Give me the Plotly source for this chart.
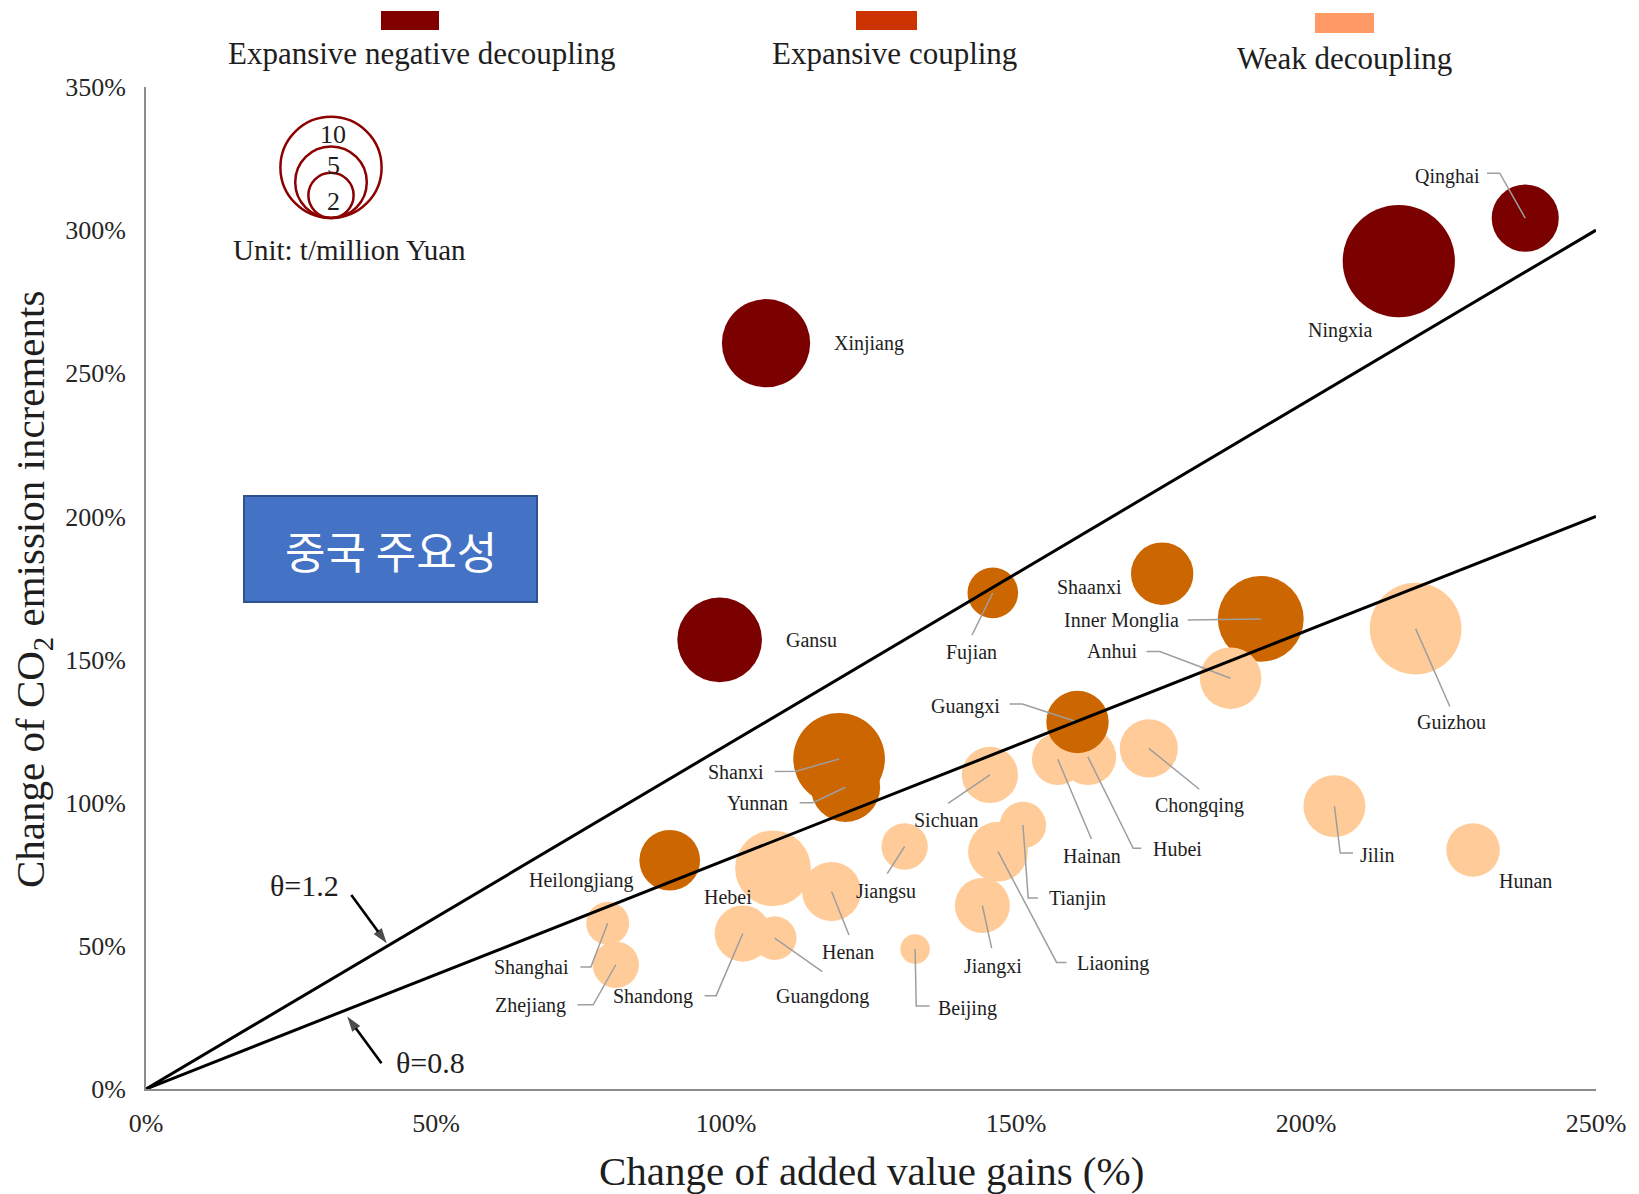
import plotly.graph_objects as go

# ---- provincial decoupling data -------------------------------------------
provinces = [
    "Qinghai", "Ningxia", "Xinjiang", "Gansu",
    "Guizhou", "Chongqing", "Hubei", "Hainan", "Sichuan", "Jilin", "Hunan",
    "Tianjin", "Liaoning", "Jiangxi", "Jiangsu", "Beijing", "Henan", "Hebei",
    "Shandong", "Guangdong", "Shanghai", "Zhejiang",
    "Fujian", "Shaanxi", "Inner Monglia", "Guangxi", "Shanxi", "Yunnan",
    "Heilongjiang",
    "Anhui",
]
# change of added value gains (%)
value_gain = [
    237.8, 216.0, 106.9, 98.9,
    218.9, 172.9, 162.4, 157.2, 145.5, 204.9, 228.8,
    151.2, 146.9, 144.2, 130.8, 132.6, 118.2, 108.1,
    102.9, 108.4, 79.6, 81.0,
    146.0, 175.2, 192.2, 160.6, 119.5, 120.6,
    90.3,
    187.0,
]
# change of CO2 emission increments (%)
emission_change = [
    304.2, 289.2, 260.5, 156.9,
    160.8, 119.0, 116.0, 115.2, 109.7, 98.8, 83.5,
    92.2, 82.9, 64.1, 84.7, 48.9, 69.0, 77.1,
    54.3, 52.7, 57.9, 43.4,
    173.3, 180.0, 164.2, 128.2, 115.3, 105.4,
    79.9,
    143.5,
]
# carbon intensity, t/million Yuan
intensity = [
    4.4, 12.3, 7.6, 7.0,
    8.2, 3.3, 3.1, 2.6, 3.1, 3.75, 2.8,
    2.1, 3.5, 2.95, 2.1, 0.85, 3.4, 5.6,
    3.1, 1.85, 1.8, 2.1,
    2.5, 3.8, 7.2, 3.8, 8.2, 4.7,
    3.6,
    3.7,
]
END, EC, WD = "Expansive negative decoupling", "Expansive coupling", "Weak decoupling"
state = [END] * 4 + [WD] * 18 + [EC] * 7 + [WD]

STATES = [END, EC, WD]
bubble_color = {END: "#7B0000", EC: "#CC6600", WD: "#FFCC99"}
swatch_color = {END: "#800000", EC: "#CC3300", WD: "#FF9966"}

THETA = [1.2, 0.8]
X_TICKS = [0, 50, 100, 150, 200, 250]
Y_TICKS = [0, 50, 100, 150, 200, 250, 300, 350]
SIZE_KEY = [10, 5, 2]

# ---- page geometry ----------------------------------------------------------
W, H = 1639, 1194
M = dict(l=146, r=43, t=87, b=105)
PW = W - M["l"] - M["r"]
PH = H - M["t"] - M["b"]


def px(x):
    """page pixel column -> paper x"""
    return (x - M["l"]) / PW


def py(y):
    """page pixel row -> paper y"""
    return (H - M["b"] - y) / PH


BUBBLE_PX = 16          # radius (px) of a bubble with intensity 1
SERIF = "Liberation Serif, Times New Roman, serif"
INK = "#1e1e1e"

# label text centre and leader-line vertices (data units), leader ends at bubble
label_layout = {
    "Qinghai": ((224.4, 318.9), [(231.2, 319.9), (233.4, 319.9)]),
    "Ningxia": ((206.0, 265.0), []),
    "Xinjiang": ((124.7, 260.5), []),
    "Gansu": ((114.7, 156.9), []),
    "Fujian": ((142.4, 152.3), [(142.4, 158.5)]),
    "Shaanxi": ((162.7, 175.2), []),
    "Inner Monglia": ((168.2, 163.5), [(179.6, 163.8)]),
    "Anhui": ((166.5, 153.0), [(172.5, 152.8), (174.8, 152.8)]),
    "Guangxi": ((141.3, 133.5), [(148.9, 134.5), (151.1, 134.5)]),
    "Shanxi": ((101.8, 110.9), [(108.4, 110.9), (112.1, 111.0)]),
    "Yunnan": ((105.4, 99.9), [(112.7, 100.0), (115.0, 100.0)]),
    "Heilongjiang": ((75.0, 72.7), []),
    "Hebei": ((100.4, 67.1), []),
    "Henan": ((121.1, 47.9), [(121.2, 53.8)]),
    "Jiangsu": ((127.6, 69.0), [(127.8, 75.2)]),
    "Sichuan": ((138.0, 93.8), [(138.3, 99.8)]),
    "Hainan": ((163.1, 81.4), [(163.0, 87.3)]),
    "Hubei": ((177.9, 83.9), [(171.6, 84.1), (170.2, 84.1)]),
    "Chongqing": ((181.7, 98.9), [(181.6, 104.7)]),
    "Tianjin": ((160.6, 66.4), [(153.8, 66.7), (152.1, 66.7)]),
    "Liaoning": ((166.7, 43.7), [(158.7, 44.2), (157.0, 44.2)]),
    "Jiangxi": ((146.0, 42.7), [(145.8, 49.2)]),
    "Beijing": ((141.7, 28.0), [(135.1, 29.0), (132.8, 29.0)]),
    "Guangdong": ((116.7, 32.2), [(116.6, 41.0)]),
    "Shandong": ((87.4, 32.2), [(96.3, 32.6), (98.3, 32.6)]),
    "Shanghai": ((66.5, 42.3), [(74.9, 42.6), (76.7, 42.6)]),
    "Zhejiang": ((66.3, 29.2), [(74.4, 29.4), (77.1, 29.4)]),
    "Guizhou": ((225.0, 128.2), [(224.8, 133.6)]),
    "Jilin": ((212.3, 81.8), [(208.1, 82.4), (205.9, 82.4)]),
    "Hunan": ((237.8, 72.7), []),
}

# theta pointer arrows: (tail, tip) in data units, label centre in page pixels
theta_pointer = {
    1.2: dict(tail=(35.4, 67.8), tip=(41.5, 50.9), label=(304.5, 885)),
    0.8: dict(tail=(40.6, 9.0), tip=(34.7, 25.3), label=(430, 1062)),
}

fig = go.Figure()

# bubbles: area proportional to carbon intensity
fig.add_trace(go.Scatter(
    x=value_gain, y=emission_change, mode="markers",
    hovertext=provinces,
    marker=dict(
        size=intensity, sizemode="area", sizeref=1 / (2 * BUBBLE_PX ** 2),
        color=[bubble_color[s] for s in state], line=dict(width=0), opacity=1,
    ),
    hoverinfo="text", showlegend=False,
))

# leader lines from labels to bubble centres
lx, ly = [], []
for name, gx, ey in zip(provinces, value_gain, emission_change):
    _, pts = label_layout[name]
    if not pts:
        continue
    for (a, b) in pts:
        lx.append(a)
        ly.append(b)
    lx += [gx, None]
    ly += [ey, None]
fig.add_trace(go.Scatter(
    x=lx, y=ly, mode="lines", line=dict(color="#9e9e9e", width=1.5),
    hoverinfo="skip", showlegend=False,
))

# decoupling elasticity boundaries
for t in THETA:
    fig.add_trace(go.Scatter(
        x=[0, X_TICKS[-1]], y=[0, t * X_TICKS[-1]], mode="lines",
        line=dict(color="black", width=3), hoverinfo="skip", showlegend=False,
    ))

annotations = []
for name in provinces:
    (tx, ty), _ = label_layout[name]
    annotations.append(dict(
        x=tx, y=ty, xref="x", yref="y", text=name, showarrow=False,
        xanchor="center", yanchor="middle",
        font=dict(family=SERIF, size=20, color=INK),
    ))

# theta labels with pointer arrows
for t in THETA:
    p = theta_pointer[t]
    fig.add_trace(go.Scatter(
        x=[p["tail"][0], p["tip"][0]], y=[p["tail"][1], p["tip"][1]],
        mode="lines+markers", line=dict(color="black", width=2.6),
        marker=dict(symbol=["circle", "arrow"], size=[0, 16], color="black",
                    angleref="previous", line=dict(width=0)),
        hoverinfo="skip", showlegend=False, cliponaxis=False,
    ))
    annotations.append(dict(
        x=px(p["label"][0]), y=py(p["label"][1]), xref="paper", yref="paper",
        text=f"θ={t}", showarrow=False, xanchor="center", yanchor="middle",
        font=dict(family=SERIF, size=30, color=INK),
    ))

shapes = []

# category key across the top
key_pos = {
    END: dict(rect=(381, 11, 439, 30), label=(421, 54)),
    EC: dict(rect=(856, 11, 917, 30), label=(894, 54)),
    WD: dict(rect=(1315, 13, 1374, 33), label=(1344, 59)),
}
for s in STATES:
    x0, y0, x1, y1 = key_pos[s]["rect"]
    shapes.append(dict(type="rect", xref="paper", yref="paper",
                       x0=px(x0), x1=px(x1), y0=py(y1), y1=py(y0),
                       fillcolor=swatch_color[s], line=dict(width=0)))
    lxp, lyp = key_pos[s]["label"]
    annotations.append(dict(x=px(lxp), y=py(lyp), xref="paper", yref="paper",
                            text=s, showarrow=False, xanchor="center",
                            yanchor="middle",
                            font=dict(family=SERIF, size=31, color=INK)))

# bubble size key: nested circles sharing a bottom point
cx, cb = 331, 218
size_label_y = {10: 134, 5: 166, 2: 201}
for v in SIZE_KEY:
    r = BUBBLE_PX * v ** 0.5
    shapes.append(dict(type="circle", xref="paper", yref="paper",
                       x0=px(cx - r), x1=px(cx + r), y0=py(cb), y1=py(cb - 2 * r),
                       line=dict(color="#8B0000", width=2.5),
                       fillcolor="rgba(0,0,0,0)"))
    annotations.append(dict(x=px(cx + 2), y=py(size_label_y[v]), xref="paper",
                            yref="paper", text=str(v), showarrow=False,
                            xanchor="center", yanchor="middle",
                            font=dict(family=SERIF, size=26, color=INK)))
annotations.append(dict(x=px(349), y=py(250), xref="paper", yref="paper",
                        text="Unit: t/million Yuan", showarrow=False,
                        xanchor="center", yanchor="middle",
                        font=dict(family=SERIF, size=29, color=INK)))

# blue title box
shapes.append(dict(type="rect", xref="paper", yref="paper",
                   x0=px(244), x1=px(537), y0=py(602), y1=py(496),
                   fillcolor="#4472C4", line=dict(color="#2F528F", width=2)))
annotations.append(dict(x=px(390.5), y=py(550), xref="paper", yref="paper",
                        text="중국 주요성", showarrow=False,
                        xanchor="center", yanchor="middle",
                        font=dict(family="Noto Sans CJK KR", size=44,
                                  color="white")))

# axis titles
annotations += [
    dict(x=0.5, y=py(1171), xref="paper", yref="paper",
         text="Change of added value gains (%)", showarrow=False,
         xanchor="center", yanchor="middle",
         font=dict(family=SERIF, size=41, color=INK)),
    dict(x=px(33), y=py(590), xref="paper", yref="paper", textangle=-90,
         text="Change of CO<sub>2</sub> emission increments", showarrow=False,
         xanchor="center", yanchor="middle",
         font=dict(family=SERIF, size=41, color=INK)),
]

axis_common = dict(
    showgrid=False, zeroline=False, showline=True, linecolor="#8c8c8c",
    linewidth=2, ticks="outside", tickcolor="rgba(0,0,0,0)",
    tickfont=dict(family=SERIF, size=26, color="#262626"), fixedrange=True,
)
fig.update_layout(
    width=W, height=H, margin=M, paper_bgcolor="white", plot_bgcolor="white",
    xaxis=dict(range=[0, X_TICKS[-1]], tickvals=X_TICKS,
               ticktext=[f"{v}%" for v in X_TICKS], ticklen=10, **axis_common),
    yaxis=dict(range=[0, Y_TICKS[-1]], tickvals=Y_TICKS,
               ticktext=[f"{v}%" for v in Y_TICKS], ticklen=13, **axis_common),
    shapes=shapes, annotations=annotations, showlegend=False,
)

fig.write_html("out.html")
